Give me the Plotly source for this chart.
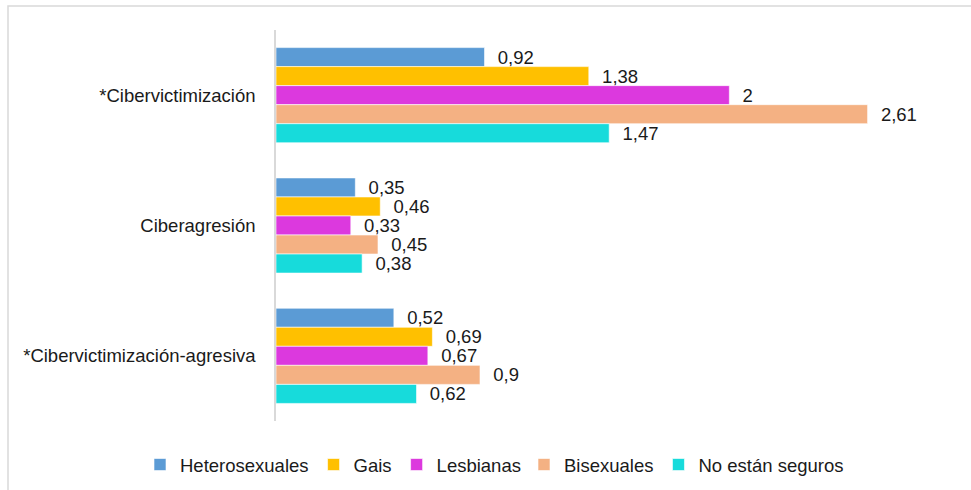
import plotly.graph_objects as go

# Indicators (categories) and mean scores per sexual-orientation group
categories = ["*Cibervictimización", "Ciberagresión", "*Cibervictimización-agresiva"]
heterosexuales = [0.92, 0.35, 0.52]
gais = [1.38, 0.46, 0.69]
lesbianas = [2.00, 0.33, 0.67]
bisexuales = [2.61, 0.45, 0.90]
no_seguros = [1.47, 0.38, 0.62]

# (name, values, colour, legend the entry goes to)
series = [
    ("Heterosexuales", heterosexuales, "#5B9BD5", "legend"),
    ("Gais", gais, "#FFC000", "legend"),
    ("Lesbianas", lesbianas, "#DC39DE", "legend"),
    ("Bisexuales", bisexuales, "#F4B183", "legend2"),
    ("No están seguros", no_seguros, "#17DBDB", "legend2"),
]

FONT = "Liberation Sans, Arial"
FS = 18.5


def label(v):
    # decimal comma, trailing zeros dropped ("2", "0,9")
    s = ("%.2f" % v).rstrip("0").rstrip(".")
    return "\u00a0\u00a0" + s.replace(".", ",")


fig = go.Figure()
for name, vals, color, leg in series:
    fig.add_trace(go.Bar(
        y=categories, x=vals, name=name, orientation="h", legend=leg,
        marker=dict(color=color, line=dict(color="white", width=0.6)),
        text=[label(v) for v in vals], textposition="outside",
        constraintext="none",
        textfont=dict(family=FONT, size=FS, color="#1a1a1a"),
        cliponaxis=False,
    ))

W, H = 971, 490
ml, mr, mt, mb = 276, 15, 30, 69
pw, ph = W - ml - mr, H - mt - mb


def px_x(p):
    return (p - ml) / pw


def px_y(p):
    return (H - mb - p) / ph


legend_style = dict(orientation="h", xref="container", yref="container",
                    xanchor="left", y=(H - 465) / H, yanchor="middle",
                    font=dict(family=FONT, size=FS, color="#1a1a1a"),
                    traceorder="normal", itemwidth=30,
                    bgcolor="rgba(0,0,0,0)")

fig.update_layout(
    width=W, height=H,
    margin=dict(l=ml, r=mr, t=mt, b=mb, autoexpand=False),
    paper_bgcolor="white", plot_bgcolor="white",
    barmode="group", bargap=0.27, bargroupgap=0,
    font=dict(family=FONT, size=FS, color="#1a1a1a"),
    xaxis=dict(range=[0, 3], visible=False, showgrid=False, zeroline=False),
    yaxis=dict(autorange="reversed", showgrid=False, zeroline=False,
               showline=True, linecolor="#d9d9d9", linewidth=1.5,
               ticks="", ticklabelstandoff=15,
               tickfont=dict(family=FONT, size=FS, color="#1a1a1a")),
    legend=dict(legend_style, x=140 / W),
    legend2=dict(legend_style, x=524 / W),
    showlegend=True,
    shapes=[dict(type="rect", xref="paper", yref="paper",
                 x0=px_x(8), x1=px_x(W + 10), y0=px_y(H + 10), y1=px_y(6),
                 line=dict(color="#d9d9d9", width=1.5), layer="below")],
    annotations=[dict(text="Medias", xref="paper", yref="paper",
                      x=px_x(491), y=px_y(2), xanchor="center", yanchor="bottom",
                      showarrow=False, font=dict(family=FONT, size=FS, color="#595959"))],
)

fig.write_html("out.html")
